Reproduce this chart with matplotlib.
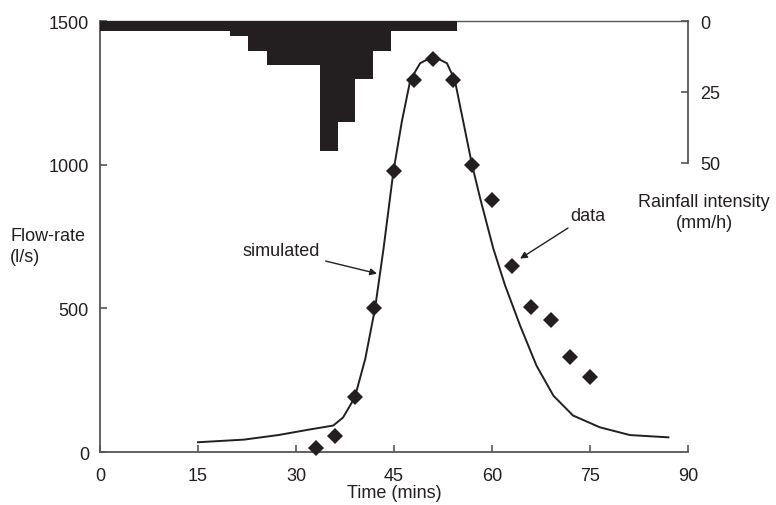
import numpy as np
import matplotlib
matplotlib.use("Agg")
import matplotlib.pyplot as plt

# observed flow (diamonds)
data_t = [33, 36, 39, 42, 45, 48, 51, 54, 57, 60, 63, 66, 69, 72, 75]
data_q = [13, 55, 190, 500, 979, 1296, 1368, 1296, 999, 878, 648, 503, 459, 330, 260]

# simulated hydrograph
sim_t = [15, 22, 27.3, 32, 35.7, 37.2, 39.0, 40.6, 42.1, 43.4, 44.9, 46.2, 47.5, 49.0,
         51.0, 53.1, 54.3, 55.6, 56.9, 58.2, 60.2, 62.0, 64.3, 66.8, 69.4, 72.4, 76.5, 81.1, 87.0]
sim_q = [34, 43, 59, 78, 92, 120, 190, 324, 500, 708, 975, 1150, 1295, 1353,
         1377, 1353, 1295, 1150, 1004, 882, 708, 580, 440, 301, 196, 127, 86, 59, 51]

# rainfall hyetograph
rain_edges = [0, 19.9, 22.7, 25.5, 33.7, 36.5, 39.1, 41.8, 44.6, 54.6]
rain_int = [3.4, 5.3, 10.5, 15.5, 45.7, 35.5, 20.4, 10.5, 3.4]

ink = '#231f20'
plt.rcParams['font.family'] = ['Liberation Sans', 'DejaVu Sans']
plt.rcParams['font.size'] = 13

fig = plt.figure(figsize=(7.76, 5.06), dpi=100)
ax = fig.add_axes([100 / 776, 1 - 453 / 506, 588 / 776, 431 / 506])

ax.plot(sim_t, sim_q, color=ink, lw=1.4, zorder=3)
ax.plot(data_t, data_q, 'D', color=ink, ms=8, mew=0, zorder=4, clip_on=False)

ax.set_xlim(0, 90)
ax.set_ylim(0, 1500)
ax.set_xticks([0, 15, 30, 45, 60, 75, 90])
ax.set_yticks([0, 500, 1000, 1500])
ax.tick_params(direction='in', length=5, width=1.2, color='#555555', labelcolor=ink)
ax.tick_params(axis='x', pad=11)
ax.tick_params(axis='y', pad=8)
for s in ['left', 'bottom']:
    ax.spines[s].set_color('#555555')
    ax.spines[s].set_linewidth(1.3)
ax.spines['top'].set_color('#555555')
ax.spines['top'].set_linewidth(1.0)
ax.spines['right'].set_visible(False)
ax.set_xlabel('Time (mins)', color=ink, labelpad=0)

ax2 = ax.twinx()
ax2.stairs(rain_int, rain_edges, fill=True, color=ink, baseline=0, zorder=2)
ax2.set_ylim(151.8, 0)
ax2.set_yticks([0, 25, 50])
ax2.spines['right'].set_bounds(0, 50)
ax2.spines['right'].set_color('#555555')
ax2.spines['right'].set_linewidth(1.3)
for s in ['left', 'top', 'bottom']:
    ax2.spines[s].set_visible(False)
ax2.tick_params(direction='in', length=5, width=1.2, color='#555555', labelcolor=ink, pad=9)

ax.annotate('simulated', xy=(42.4, 621), xytext=(33.7, 702), ha='right', va='center',
            color=ink, arrowprops=dict(arrowstyle='-|>', color=ink, lw=1.0,
                                       mutation_scale=10, shrinkA=2, shrinkB=0))
ax.annotate('data', xy=(64.3, 673), xytext=(72.0, 824), ha='left', va='center',
            color=ink, arrowprops=dict(arrowstyle='-|>', color=ink, lw=1.0,
                                       mutation_scale=10, shrinkA=2, shrinkB=0))

fig.text(10 / 776, 1 - 247 / 506, 'Flow-rate\n(l/s)', ha='left', va='center',
         color=ink, linespacing=1.35)
fig.text(704 / 776, 1 - 213 / 506, 'Rainfall intensity\n(mm/h)', ha='center', va='center',
         color=ink, linespacing=1.35, multialignment='center')

fig.savefig('out.png', dpi=100)
